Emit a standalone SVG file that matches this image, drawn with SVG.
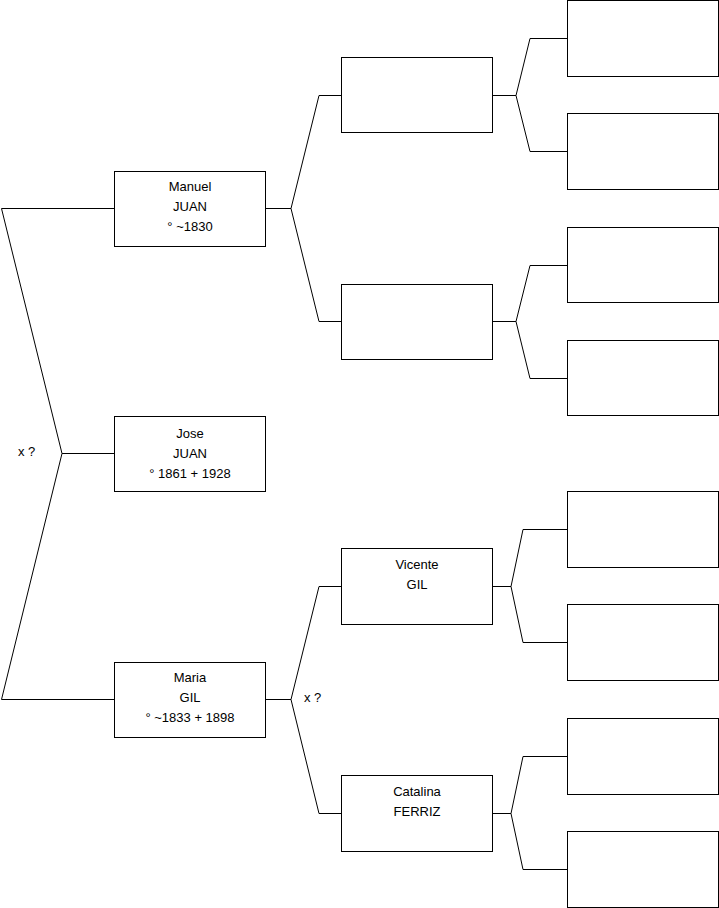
<svg xmlns="http://www.w3.org/2000/svg" width="719" height="908" viewBox="0 0 719 908">
<style>
.box{fill:#fff;stroke:#000;stroke-width:1}
.ln{fill:none;stroke:#000;stroke-width:1}
text{font-family:"Liberation Sans",Arial,sans-serif;font-size:13px;fill:#000}
.c{text-anchor:middle}
</style>
<rect width="719" height="908" fill="#fff"/>
<g id="connectors">
<path class="ln" d="M114,208.5 H1.5 L62,453.5 L1.5,699.5 H114 M62,453.5 H114"/>
<path class="ln" d="M265,208.5 H291 L319,95.5 H341 M291,208.5 L319,321.5 H341"/>
<path class="ln" d="M265,699.5 H291 L319,586.5 H341 M291,699.5 L319,813.5 H341"/>
<path class="ln" d="M492,95.5 H516 L530,38.5 H567 M516,95.5 L530,151.5 H567"/>
<path class="ln" d="M492,321.5 H516 L530,265.5 H567 M516,321.5 L530,378.5 H567"/>
<path class="ln" d="M492,586.5 H511 L523,529.5 H567 M511,586.5 L523,642.5 H567"/>
<path class="ln" d="M492,813.5 H511 L523,756.5 H567 M511,813.5 L523,869.5 H567"/>
<text x="18" y="456">x ?</text>
<text x="304" y="702">x ?</text>
</g>
<g id="manuel"><rect class="box" x="114.5" y="171.5" width="151" height="75"/>
<text class="c" x="190" y="191">Manuel</text><text class="c" x="190" y="211">JUAN</text><text class="c" x="190" y="231">° ~1830</text></g>
<g id="jose"><rect class="box" x="114.5" y="416.5" width="151" height="75"/>
<text class="c" x="190" y="438">Jose</text><text class="c" x="190" y="458">JUAN</text><text class="c" x="190" y="478">° 1861 + 1928</text></g>
<g id="maria"><rect class="box" x="114.5" y="662.5" width="151" height="75"/>
<text class="c" x="190" y="682">Maria</text><text class="c" x="190" y="702">GIL</text><text class="c" x="190" y="722">° ~1833 + 1898</text></g>
<g id="f1"><rect class="box" x="341.5" y="57.5" width="151" height="75"/></g>
<g id="m1"><rect class="box" x="341.5" y="284.5" width="151" height="75"/></g>
<g id="vicente"><rect class="box" x="341.5" y="548.5" width="151" height="76"/>
<text class="c" x="417" y="569">Vicente</text><text class="c" x="417" y="589">GIL</text></g>
<g id="catalina"><rect class="box" x="341.5" y="775.5" width="151" height="76"/>
<text class="c" x="417" y="796">Catalina</text><text class="c" x="417" y="816">FERRIZ</text></g>
<g id="g1"><rect class="box" x="567.5" y="0.5" width="151" height="76"/></g>
<g id="g2"><rect class="box" x="567.5" y="113.5" width="151" height="76"/></g>
<g id="g3"><rect class="box" x="567.5" y="227.5" width="151" height="75"/></g>
<g id="g4"><rect class="box" x="567.5" y="340.5" width="151" height="75"/></g>
<g id="g5"><rect class="box" x="567.5" y="491.5" width="151" height="76"/></g>
<g id="g6"><rect class="box" x="567.5" y="604.5" width="151" height="76"/></g>
<g id="g7"><rect class="box" x="567.5" y="718.5" width="151" height="76"/></g>
<g id="g8"><rect class="box" x="567.5" y="831.5" width="151" height="76"/></g>
</svg>
